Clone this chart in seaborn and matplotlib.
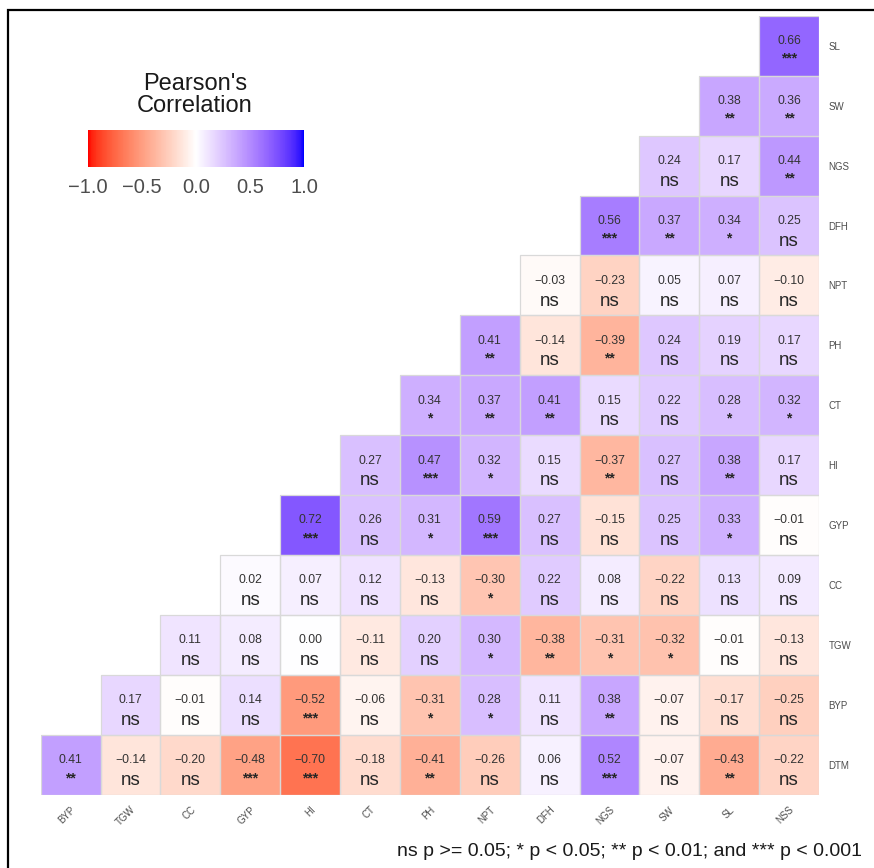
import numpy as np
import pandas as pd
import matplotlib
matplotlib.use("Agg")
import matplotlib.pyplot as plt
from matplotlib.colors import ListedColormap
from matplotlib.patches import Rectangle
import seaborn as sns

# ──────────────────────────────────────────────────────────────────────────────
# Data (upper-right triangle, each row lists the rightmost cells)
# ──────────────────────────────────────────────────────────────────────────────

col_labels = ["BYP", "TGW", "CC", "GYP", "HI", "CT", "PH", "NPT", "DFH", "NGS", "SW", "SL", "NSS"]
row_labels = ["SL", "SW", "NGS", "DFH", "NPT", "PH", "CT", "HI", "GYP", "CC", "TGW", "BYP", "DTM"]

corr_rows = [
    [0.66],
    [0.38, 0.36],
    [0.24, 0.17, 0.44],
    [0.56, 0.37, 0.34, 0.25],
    [-0.03, -0.23, 0.05, 0.07, -0.10],
    [0.41, -0.14, -0.39, 0.24, 0.19, 0.17],
    [0.34, 0.37, 0.41, 0.15, 0.22, 0.28, 0.32],
    [0.27, 0.47, 0.32, 0.15, -0.37, 0.27, 0.38, 0.17],
    [0.72, 0.26, 0.31, 0.59, 0.27, -0.15, 0.25, 0.33, -0.01],
    [0.02, 0.07, 0.12, -0.13, -0.30, 0.22, 0.08, -0.22, 0.13, 0.09],
    [0.11, 0.08, 0.00, -0.11, 0.20, 0.30, -0.38, -0.31, -0.32, -0.01, -0.13],
    [0.17, -0.01, 0.14, -0.52, -0.06, -0.31, 0.28, 0.11, 0.38, -0.07, -0.17, -0.25],
    [0.41, -0.14, -0.20, -0.48, -0.70, -0.18, -0.41, -0.26, 0.06, 0.52, -0.07, -0.43, -0.22],
]

sig_rows = [
    ["***"],
    ["**", "**"],
    ["ns", "ns", "**"],
    ["***", "**", "*", "ns"],
    ["ns", "ns", "ns", "ns", "ns"],
    ["**", "ns", "**", "ns", "ns", "ns"],
    ["*", "**", "**", "ns", "ns", "*", "*"],
    ["ns", "***", "*", "ns", "**", "ns", "**", "ns"],
    ["***", "ns", "*", "***", "ns", "ns", "ns", "*", "ns"],
    ["ns", "ns", "ns", "ns", "*", "ns", "ns", "ns", "ns", "ns"],
    ["ns", "ns", "ns", "ns", "ns", "*", "**", "*", "*", "ns", "ns"],
    ["ns", "ns", "ns", "***", "ns", "*", "*", "ns", "**", "ns", "ns", "ns"],
    ["**", "ns", "ns", "***", "***", "ns", "**", "ns", "ns", "***", "ns", "**", "ns"],
]

cbar_ticks = [-1.0, -0.5, 0.0, 0.5, 1.0]
caption = "ns p >= 0.05; * p < 0.05; ** p < 0.01; and *** p < 0.001"

n = len(col_labels)
mat = np.full((n, n), np.nan)
sig = [[""] * n for _ in range(n)]
for i, (vals, stars) in enumerate(zip(corr_rows, sig_rows)):
    mat[i, n - len(vals):] = vals
    for k, s in enumerate(stars):
        sig[i][n - len(stars) + k] = s
df = pd.DataFrame(mat, index=row_labels, columns=col_labels)


# ──────────────────────────────────────────────────────────────────────────────
# Colormap: red - white - blue interpolated in CIE Lab (ggplot gradient2 look)
# ──────────────────────────────────────────────────────────────────────────────

def lab_to_rgb(L, a, b):
    fy = (L + 16) / 116
    fx = fy + a / 500
    fz = fy - b / 200

    def finv(t):
        return np.where(t > 6 / 29, t ** 3, 3 * (6 / 29) ** 2 * (t - 4 / 29))

    X, Y, Z = 0.95047 * finv(fx), finv(fy), 1.08883 * finv(fz)
    r = 3.2406 * X - 1.5372 * Y - 0.4986 * Z
    g = -0.9689 * X + 1.8758 * Y + 0.0415 * Z
    bb = 0.0557 * X - 0.2040 * Y + 1.0570 * Z
    rgb = np.clip(np.stack([r, g, bb], axis=-1), 0, 1)
    return np.where(rgb <= 0.0031308, 12.92 * rgb, 1.055 * rgb ** (1 / 2.4) - 0.055)


lab_red = np.array([53.24, 80.09, 67.20])
lab_white = np.array([100.0, 0.0, 0.0])
lab_blue = np.array([32.30, 79.19, -107.86])
t = np.linspace(-1, 1, 256)
labs = np.array([lab_white + abs(v) * ((lab_red if v < 0 else lab_blue) - lab_white) for v in t])
cmap = ListedColormap(lab_to_rgb(labs[:, 0], labs[:, 1], labs[:, 2]))


# ──────────────────────────────────────────────────────────────────────────────
# Plot
# ──────────────────────────────────────────────────────────────────────────────

sns.set_style("white")
plt.rcParams["font.family"] = ["Liberation Sans", "DejaVu Sans"]

W, H = 874, 868
fig = plt.figure(figsize=(W / 100, H / 100), dpi=100)
ax = fig.add_axes([40.7 / W, 1 - 795 / H, (819 - 40.7) / W, (795 - 15.7) / H])

sns.heatmap(df, cmap=cmap, vmin=-1, vmax=1, cbar=False, ax=ax, linewidths=0)

# thin grey outline on the filled cells only
for i in range(n):
    for j in range(n):
        if not np.isnan(mat[i, j]):
            ax.add_patch(Rectangle((j, i), 1, 1, fill=False, edgecolor="#d9d9d9",
                                   linewidth=0.9, zorder=2))

for i in range(n):
    for j in range(n):
        v = mat[i, j]
        if np.isnan(v):
            continue
        txt = f"{v:.2f}".replace("-", "\u2212")
        ax.text(j + 0.5, i + 0.42, txt, ha="center", va="center",
                fontsize=8.8, color="#333333", zorder=3)
        s = sig[i][j]
        if s == "ns":
            ax.text(j + 0.5, i + 0.76, s, ha="center", va="center",
                    fontsize=13.5, color="#262626", zorder=3)
        else:
            ax.text(j + 0.5, i + 0.72, s, ha="center", va="center",
                    fontsize=10, color="#262626", fontweight="bold", zorder=3)

ax.yaxis.tick_right()
ax.set_yticklabels(row_labels, rotation=0, fontsize=7, color="#4d4d4d")
ax.set_xticklabels(col_labels, rotation=45, ha="right", rotation_mode="anchor",
                   fontsize=7, color="#4d4d4d")
ax.tick_params(axis="both", length=0, pad=7)
ax.set_xlabel("")
ax.set_ylabel("")
for sp in ax.spines.values():
    sp.set_visible(False)

# Legend (colorbar)
fig.text(195 / W, 1 - 95 / H, "Pearson's\nCorrelation", ha="center", va="center",
         fontsize=17, color="#1a1a1a", linespacing=1.0)
cax = fig.add_axes([88 / W, 1 - 167 / H, 216 / W, 37 / H])
cb = fig.colorbar(ax.collections[0], cax=cax, orientation="horizontal", ticks=cbar_ticks)
cb.outline.set_visible(False)
cb.ax.set_xticklabels([f"{v:.1f}".replace("-", "\u2212") for v in cbar_ticks])
cb.ax.tick_params(axis="x", direction="in", length=5, color="white",
                  labelsize=14.5, labelcolor="#4d4d4d", pad=8)

# Caption
fig.text(862 / W, 1 - 851 / H, caption, ha="right", va="center",
         fontsize=14, color="#1a1a1a")

# Black frame around the panel
fig.patches.append(Rectangle((8 / W, -0.02), 1.05, 1 - 10 / H + 0.02,
                             transform=fig.transFigure, fill=False,
                             edgecolor="black", linewidth=1.6))

plt.savefig("out.png", dpi=100)
plt.close()
